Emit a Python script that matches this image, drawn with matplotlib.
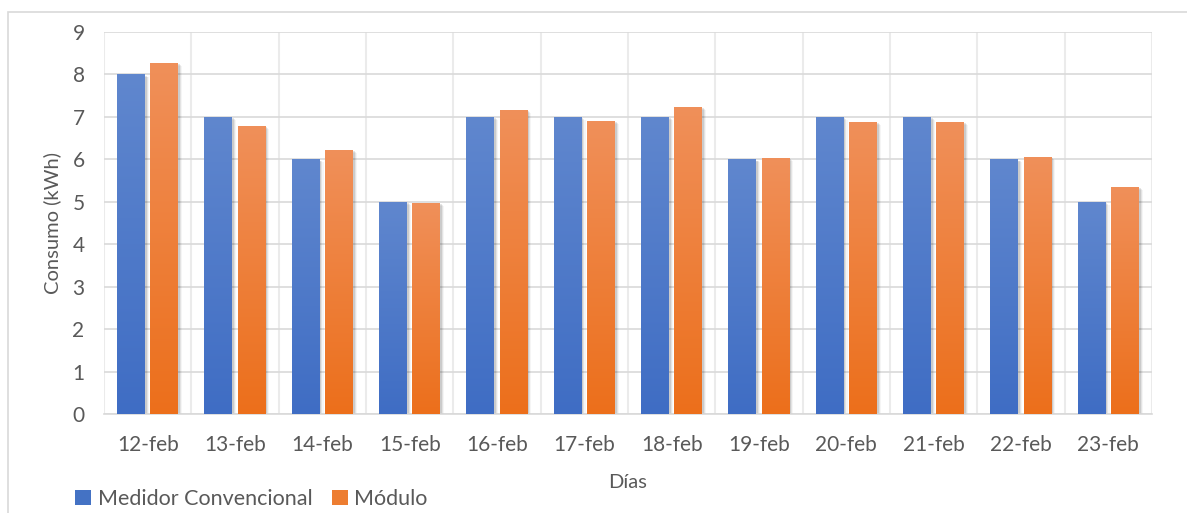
import numpy as np
import matplotlib
matplotlib.use("Agg")
import matplotlib.pyplot as plt
from matplotlib.patches import Rectangle
from matplotlib.colors import LinearSegmentedColormap

# daily consumption, conventional meter vs. the module
dias = ["12-feb", "13-feb", "14-feb", "15-feb", "16-feb", "17-feb",
        "18-feb", "19-feb", "20-feb", "21-feb", "22-feb", "23-feb"]
medidor = [8, 7, 6, 5, 7, 7, 7, 6, 7, 7, 6, 5]
modulo = [8.28, 6.79, 6.23, 4.98, 7.17, 6.91, 7.24, 6.04, 6.89, 6.89, 6.06, 5.35]
yticks = [0, 1, 2, 3, 4, 5, 6, 7, 8, 9]

plt.rcParams['font.family'] = ['Lato', 'DejaVu Sans']
txt = '#595959'

fig = plt.figure(figsize=(11.87, 5.13), dpi=100)
ax = fig.add_axes([0.0876, 0.193, 0.8829, 0.7446])

# chart frame
fig.patches.append(Rectangle((8 / 1187, -0.1), 1.2, 1 - 12 / 513 + 0.1,
                             transform=fig.transFigure, fill=False,
                             edgecolor='#D9D9D9', linewidth=1.2))

blue_cm = LinearSegmentedColormap.from_list('b', ['#3F6DC4', '#6087CE'])
orange_cm = LinearSegmentedColormap.from_list('o', ['#EC6F1B', '#F0905A'])

x = np.arange(len(dias))
w = 0.32
off = 0.19
grad = np.linspace(0, 1, 256).reshape(-1, 1)


def gradient_bars(xs, vals, cmap):
    bars = ax.bar(xs, vals, w, color='none', zorder=3)
    for b in bars:
        x0, y0 = b.get_x(), b.get_y()
        bw, bh = b.get_width(), b.get_height()
        # soft shadow to the right
        for i, a in enumerate([0.10, 0.07, 0.04]):
            ax.add_patch(Rectangle((x0 + 0.02 + i * 0.012, y0), bw, bh - 0.03 - i * 0.02,
                                   facecolor='#000000', alpha=a, edgecolor='none', zorder=2))
        im = ax.imshow(grad, cmap=cmap, aspect='auto', origin='lower',
                       extent=[x0, x0 + bw, y0, y0 + bh], zorder=3)
        im.set_clip_path(b)
    return bars


gradient_bars(x - off, medidor, blue_cm)
gradient_bars(x + off, modulo, orange_cm)

ax.set_xlim(-0.5, len(dias) - 0.5)
ax.set_ylim(0, 9)
ax.set_yticks(yticks)
ax.set_xticks(x)
ax.set_xticklabels(dias)
ax.set_xticks(np.arange(-0.5, len(dias)), minor=True)
ax.grid(True, axis='y', color='#D9D9D9', linewidth=1.2, zorder=0)
ax.grid(True, axis='x', which='minor', color='#EBEBEB', linewidth=1.5, zorder=0)
ax.tick_params(axis='both', which='both', length=0, labelsize=15, colors=txt)
ax.tick_params(axis='x', pad=15)
ax.tick_params(axis='y', pad=14)
for s in ['top', 'right', 'left']:
    ax.spines[s].set_visible(False)
ax.spines['bottom'].set_color('#D9D9D9')
ax.spines['bottom'].set_linewidth(1.2)

ax.set_xlabel('Días', fontsize=14.5, color=txt, labelpad=14)
ax.set_ylabel('Consumo (kWh)', fontsize=14.5, color=txt, labelpad=8)

handles = [Rectangle((0, 0), 1, 1, facecolor='#4472C4'),
           Rectangle((0, 0), 1, 1, facecolor='#ED7D31')]
fig.legend(handles, ['Medidor Convencional', 'Módulo'], loc='lower left',
           bbox_to_anchor=(0.047, -0.03), ncol=2, frameon=False, fontsize=15.5,
           labelcolor=txt, handlelength=0.75, handleheight=0.75, handletextpad=0.3,
           columnspacing=0.9)

fig.savefig('out.png', dpi=100)
